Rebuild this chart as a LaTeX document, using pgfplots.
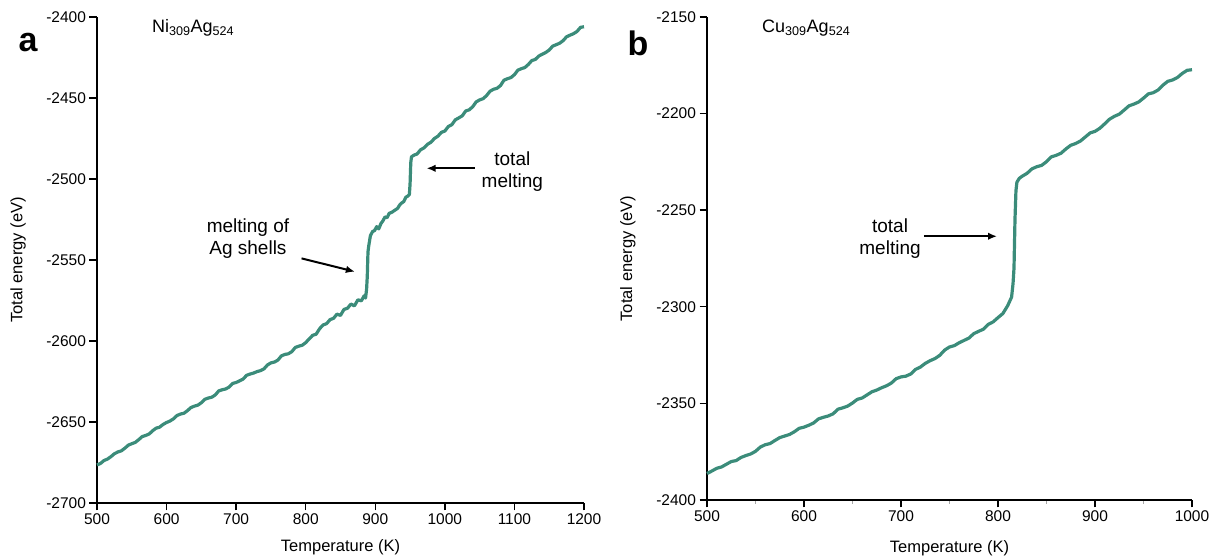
\documentclass[border=0pt]{standalone}
\usepackage{fontspec}
\setmainfont{Liberation Sans}
\usepackage{pgfplots}
\pgfplotsset{compat=1.18}
\usetikzlibrary{arrows.meta}
\definecolor{teal1}{HTML}{3B8C7A}

\pgfplotstableread{
T E
500 -2676.5
505 -2675.6
510 -2673.8
515 -2672.9
520 -2671.4
525 -2669.6
530 -2668.5
535 -2667.8
540 -2666.2
545 -2664.3
550 -2663.4
555 -2662.6
560 -2660.9
565 -2659.0
570 -2658.3
575 -2657.4
580 -2655.4
585 -2653.8
590 -2653.2
595 -2651.5
600 -2650.3
605 -2649.4
610 -2648.0
615 -2646.0
620 -2645.1
625 -2644.6
630 -2643.0
635 -2641.1
640 -2640.2
645 -2639.6
650 -2638.1
655 -2636.0
660 -2635.2
665 -2634.7
670 -2633.3
675 -2630.8
680 -2630.1
685 -2629.6
690 -2628.4
695 -2626.2
700 -2625.6
705 -2624.6
710 -2623.5
715 -2621.2
720 -2620.4
725 -2619.8
730 -2618.9
735 -2618.3
740 -2617.2
745 -2614.8
750 -2613.5
755 -2613.0
760 -2611.8
765 -2609.2
770 -2608.3
775 -2607.9
780 -2606.6
785 -2604.0
790 -2603.2
795 -2602.6
800 -2601.0
805 -2598.7
810 -2596.5
815 -2595.8
820 -2592.4
825 -2590.1
830 -2589.3
835 -2586.8
840 -2586.0
845 -2583.4
850 -2584.2
855 -2580.5
860 -2579.8
865 -2577.2
870 -2578.3
875 -2574.6
880 -2575.2
884 -2572.1
886 -2573.5
887.5 -2568
888.5 -2560
889.5 -2545
890.5 -2541.5
893 -2535
896 -2532.5
899 -2531.8
902 -2529.4
905 -2530.8
908 -2527.6
911 -2525.8
914 -2523.4
917 -2523.9
920 -2521.2
924 -2520.5
928 -2519.3
932 -2518.2
935 -2516.1
938 -2514.8
941 -2513.9
944 -2511.2
947 -2510.5
949 -2509.6
950 -2503
951 -2490
952 -2486.3
956 -2485.2
960 -2484.6
965 -2482.0
970 -2480.8
975 -2478.6
980 -2477.3
985 -2475.0
990 -2473.6
995 -2471.2
1000 -2470.4
1005 -2467.6
1010 -2466.5
1015 -2463.5
1020 -2462.3
1025 -2461.0
1030 -2458.0
1035 -2457.3
1040 -2455.4
1045 -2452.4
1050 -2451.2
1055 -2450.4
1060 -2448.5
1065 -2445.8
1070 -2444.6
1075 -2444.0
1080 -2442.3
1085 -2439.0
1090 -2438.1
1095 -2437.4
1100 -2435.6
1105 -2432.8
1110 -2431.9
1115 -2431.2
1120 -2429.3
1125 -2426.9
1130 -2426.2
1135 -2424.1
1140 -2423.0
1145 -2421.9
1150 -2420.4
1155 -2418.0
1160 -2417.1
1165 -2416.2
1170 -2414.6
1175 -2412.2
1180 -2411.2
1185 -2410.3
1190 -2408.9
1195 -2406.4
1200 -2406.0
}\dataA

\pgfplotstableread{
T E
500 -2386.3
505 -2385.0
510 -2383.6
515 -2382.9
520 -2381.5
525 -2380.1
530 -2379.6
535 -2378.0
540 -2377.0
545 -2376.2
550 -2374.8
555 -2372.6
560 -2371.4
565 -2370.8
570 -2369.2
575 -2367.7
580 -2366.9
585 -2366.1
590 -2364.7
595 -2362.9
600 -2362.3
605 -2361.3
610 -2360.1
615 -2358.0
620 -2357.2
625 -2356.5
630 -2355.4
635 -2353.0
640 -2352.3
645 -2351.4
650 -2349.8
655 -2347.9
660 -2347.2
665 -2345.6
670 -2344.0
675 -2343.1
680 -2341.9
685 -2340.9
690 -2339.5
695 -2337.2
700 -2336.3
705 -2335.9
710 -2334.8
715 -2332.4
720 -2331.2
725 -2329.3
730 -2327.9
735 -2326.8
740 -2325.1
745 -2322.4
750 -2320.8
755 -2320.1
760 -2318.6
765 -2317.4
770 -2316.2
775 -2313.9
780 -2312.7
785 -2311.6
790 -2309.1
795 -2307.8
800 -2305.6
805 -2303.5
810 -2299.4
814 -2295.0
815.5 -2288
816.5 -2280
817.5 -2255
818.5 -2240
819.5 -2235.5
822 -2233.5
825 -2232.4
830 -2230.9
835 -2228.6
840 -2227.5
845 -2226.8
850 -2224.9
855 -2222.4
860 -2221.6
865 -2220.5
870 -2218.3
875 -2216.4
880 -2215.5
885 -2214.2
890 -2212.1
895 -2210.0
900 -2209.2
905 -2207.6
910 -2205.3
915 -2202.9
920 -2201.4
925 -2200.3
930 -2198.2
935 -2196.0
940 -2195.1
945 -2194.0
950 -2192.0
955 -2189.8
960 -2189.2
965 -2187.8
970 -2185.3
975 -2183.3
980 -2182.6
985 -2181.3
990 -2179.2
995 -2177.6
1000 -2177.3
}\dataB

\pgfplotsset{
  myax/.style={
    scale only axis,
    axis x line*=bottom, axis y line*=left,
    tick align=outside,
    major tick length=7.5pt,
    every tick/.style={black, line width=1.4pt},
    axis line style={line width=1.6pt},
    tick label style={font=\fontsize{15.5}{17}\selectfont},
    /pgf/number format/assume math mode=true,
    /pgf/number format/1000 sep={},
    every axis x label/.style={at={(axis description cs:0.5,-0.092)}, anchor=center, font=\fontsize{16.5}{18}\selectfont},
    every axis y label/.style={at={(axis description cs:-0.162,0.5)}, anchor=center, rotate=90, font=\fontsize{16.5}{18}\selectfont},
    clip=false,
  },
}
\tikzset{
  ann/.style={font=\fontsize{19}{22}\selectfont, align=center},
  arr/.style={-{Latex[length=9pt,width=7.5pt]}, line width=2pt},
}

\begin{document}
\begin{tikzpicture}[x=1pt,y=1pt]
\useasboundingbox (0,0) rectangle (1211,559);
\begin{axis}[myax, at={(97pt,56pt)}, anchor=south west, width=487pt, height=486pt,
  xmin=500, xmax=1200, ymin=-2700, ymax=-2400,
  xtick={500,600,...,1200}, ytick={-2700,-2650,...,-2400},
  xlabel={Temperature (K)}, ylabel={Total energy (eV)}]
\addplot[teal1, line width=3.2pt, line join=round] table[x=T,y=E] {\dataA};
\draw[arr] (axis cs:794,-2549) -- (axis cs:870.7,-2557.2);
\node[ann] at (axis cs:717,-2537) {melting of\\Ag shells};
\draw[arr] (axis cs:1043,-2493.4) -- (axis cs:973.7,-2493.4);
\node[ann] at (axis cs:1097,-2495.5) {total\\melting};
\end{axis}

\begin{axis}[myax, at={(707pt,59pt)}, anchor=south west, width=485pt, height=483pt,
  xmin=500, xmax=1000, ymin=-2400, ymax=-2150,
  xtick={500,600,...,1000}, ytick={-2400,-2350,...,-2150},
  minor x tick num=1, minor tick length=4pt,
  every minor tick/.style={line width=0.6pt, black!35},
  every axis x label/.style={at={(axis description cs:0.5,-0.1)}, anchor=center, font=\fontsize{16.5}{18}\selectfont},
  every axis y label/.style={at={(axis description cs:-0.163,0.5)}, anchor=center, rotate=90, font=\fontsize{16.5}{18}\selectfont},
  xlabel={Temperature (K)}, ylabel={Total energy (eV)}]
\addplot[teal1, line width=3.2pt, line join=round] table[x=T,y=E] {\dataB};
\draw[arr] (axis cs:723.7,-2263.5) -- (axis cs:799,-2263.5);
\node[ann] at (axis cs:688.7,-2264.5) {total\\melting};
\end{axis}

\node[font=\fontsize{34}{36}\selectfont\bfseries] at (28,516) {a};
\node[font=\fontsize{34}{36}\selectfont\bfseries] at (638,516) {b};
\node[anchor=west, font=\fontsize{18}{20}\selectfont, inner sep=0pt] at (152,531) {Ni\textsubscript{309}Ag\textsubscript{524}};
\node[anchor=west, font=\fontsize{18}{20}\selectfont, inner sep=0pt] at (762,531) {Cu\textsubscript{309}Ag\textsubscript{524}};
\end{tikzpicture}
\end{document}
